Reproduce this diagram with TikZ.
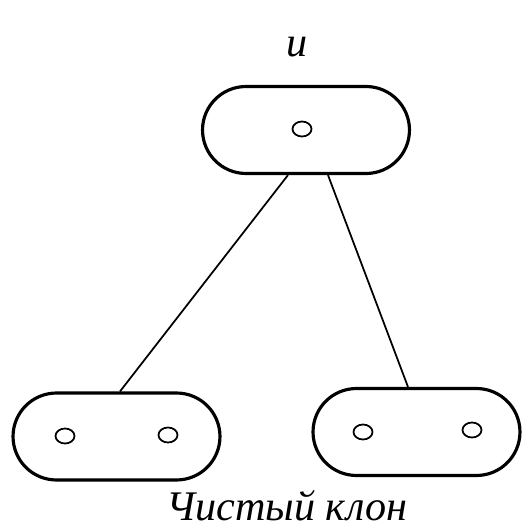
\documentclass[tikz,border=0pt]{standalone}
\usepackage{fontspec}
\newfontfamily\clonefont{Liberation Serif}
\usepackage{tikz}
\usetikzlibrary{shapes.misc, shapes.geometric}

\begin{document}
\begin{tikzpicture}[x=0.02cm, y=-0.02cm,
    clone/.style={rounded rectangle, draw, line width=1.8pt, minimum width=4.14cm, minimum height=1.74cm, inner sep=0pt},
    cell/.style={ellipse, draw, line width=1pt, minimum width=0.38cm, minimum height=0.3cm, inner sep=0pt},
    link/.style={line width=1pt},
    lbl/.style={font=\clonefont\itshape\fontsize{24}{28}\selectfont}]
  \useasboundingbox (0,0) rectangle (532,531);
  \node[clone] (top) at (306,130) {};
  \node[cell] (topc) at (302,129) {};
  \node[lbl] (topl) at (297,47) {и};
  \node[clone] (left) at (116.5,436.5) {};
  \node[cell] (leftc1) at (65,436) {};
  \node[cell] (leftc2) at (168,435) {};
  \node[clone] (right) at (416.5,432) {};
  \node[cell] (rightc1) at (363,432) {};
  \node[cell] (rightc2) at (472,430) {};
  \draw[link] ([xshift=-0.36cm]top.south) -- ([xshift=0.07cm]left.north);
  \draw[link] ([xshift=0.44cm]top.south) -- ([xshift=-0.17cm]right.north);
  \node[lbl] (name) at (287,506) {Чистый клон};
\end{tikzpicture}
\end{document}
